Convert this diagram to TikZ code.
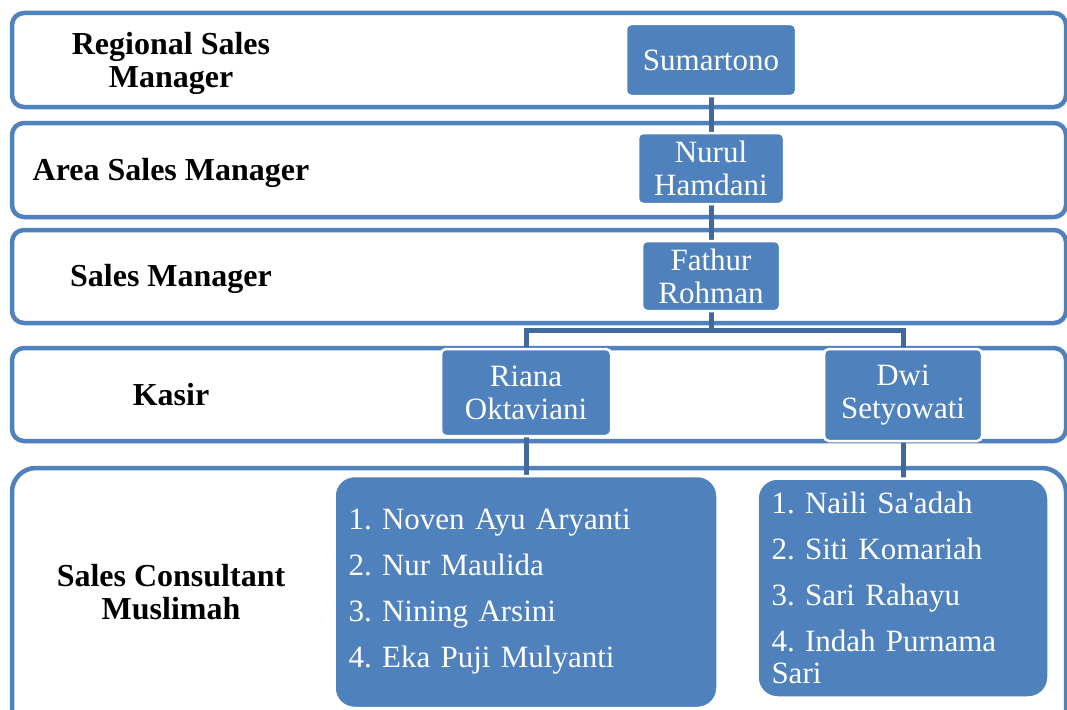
\documentclass[tikz,border=0pt]{standalone}
\usepackage{fontspec}
\setmainfont{Liberation Serif}
\newfontfamily\plainserif{Liberation Serif}
\begin{document}
\pgfdeclarelayer{bands}
\pgfdeclarelayer{links}
\pgfsetlayers{bands,links,main}
\definecolor{rowblue}{HTML}{4F81BD}
\definecolor{nodeblue}{HTML}{4F81BD}
\definecolor{linkblue}{HTML}{41699E}
\frenchspacing
\begin{tikzpicture}[x=1pt,y=-1pt,
  band/.style={draw=rowblue, line width=4.5pt, rounded corners=12pt, fill=white},
  bigband/.style={draw=rowblue, line width=4.5pt, rounded corners=24pt, fill=white},
  person/.style={fill=nodeblue, draw=white, line width=2.5pt, rounded corners=5pt,
    text=white, font=\plainserif\fontsize{31}{33}\selectfont, align=center, inner sep=0pt},
  listbox/.style={fill=nodeblue, draw=white, line width=2.5pt, rounded corners=20pt,
    text=white, font=\plainserif\fontsize{31}{32}\selectfont\frenchspacing, align=left, inner xsep=14pt, inner ysep=0pt},
  lbl/.style={font=\fontsize{32}{33}\selectfont\bfseries, align=center, text=black},
  link/.style={draw=linkblue, line width=5pt}
]
\useasboundingbox (0,0) rectangle (1067,709);
\clip (0,0) rectangle (1067,709);

% rows
\begin{pgfonlayer}{bands}
\fill[white] (0,0) rectangle (1067,709);
\draw[band] (12,13) rectangle (1066,107);
\draw[band] (12,123) rectangle (1066,217);
\draw[band] (12,230) rectangle (1066,323);
\draw[band] (12,348) rectangle (1066,441);
\draw[bigband] (12,468) rectangle (1066,770);
\end{pgfonlayer}

% row labels
\node[lbl] (lab1) at (171,63) {Regional Sales\\Manager};
\node[lbl] (lab2) at (171,173) {Area Sales Manager};
\node[lbl] (lab3) at (171,279) {Sales Manager};
\node[lbl] (lab4) at (171,395) {Kasir};
\node[lbl] (lab5) at (171,592) {Sales Consultant\\Muslimah};

% people
\node[person, minimum width=170pt, minimum height=72pt] (sum) at (711,60) {Sumartono};
\node[person, minimum width=146pt, minimum height=71pt] (nur) at (711,168.5) {Nurul\\Hamdani};
\node[person, minimum width=138pt, minimum height=70pt] (fat) at (711,276) {Fathur\\Rohman};
\node[person, minimum width=170pt, minimum height=87pt] (ria) at (526,392.5) {Riana\\Oktaviani};
\node[person, minimum width=158pt, minimum height=92pt] (dwi) at (903,395) {Dwi\\Setyowati};

\node[listbox, text width=355pt, minimum height=232pt] (lst1) at (526,592)
  {1. Noven Ayu Aryanti\\[14pt]2. Nur Maulida\\[14pt]3. Nining Arsini\\[14pt]4. Eka Puji Mulyanti};
\node[listbox, text width=263pt, minimum height=219pt] (lst2) at (903,588)
  {1. Naili Sa'adah\\[14pt]2. Siti Komariah\\[14pt]3. Sari Rahayu\\[14pt]4. Indah Purnama\\Sari};

\coordinate (bus) at (711,330.5);

% connectors
\begin{pgfonlayer}{links}
\draw[link] (sum.center) -- (nur.center);
\draw[link] (nur.center) -- (fat.center);
\draw[link] (fat.center) -- (bus);
\draw[link] (bus) -| (ria.center);
\draw[link] (bus) -| (dwi.center);
\draw[link] (ria.center) -- (lst1.center);
\draw[link] (dwi.center) -- (lst2.center);
\end{pgfonlayer}
\end{tikzpicture}
\end{document}
